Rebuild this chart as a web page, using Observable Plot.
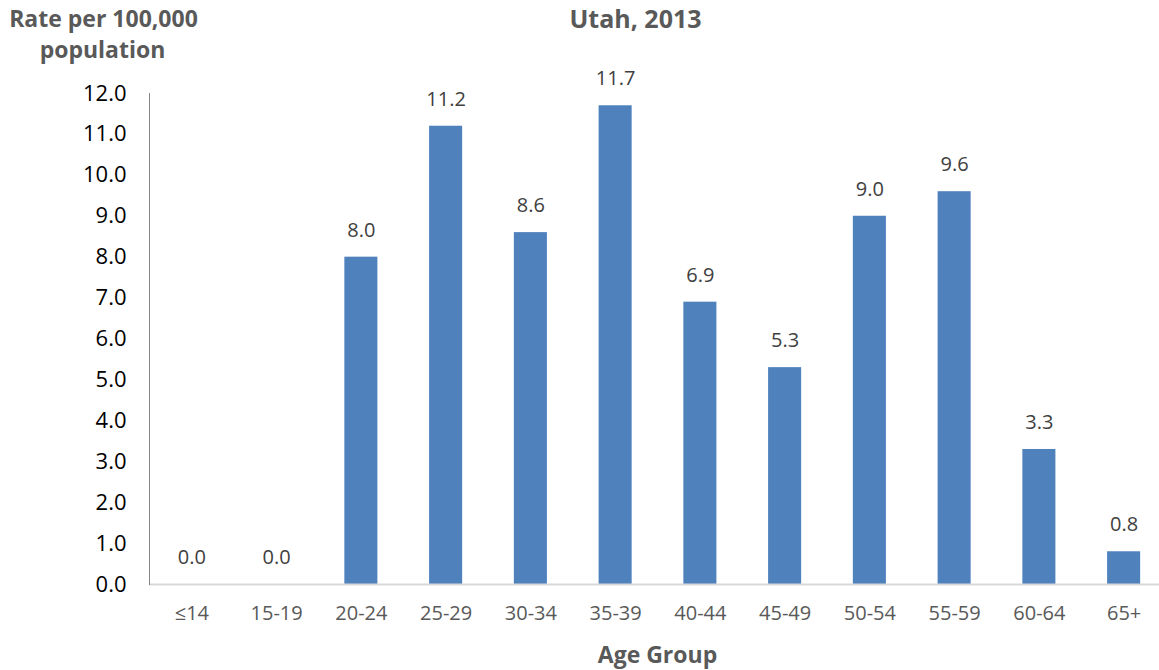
<!DOCTYPE html>
<html><head><meta charset="utf-8">
<script src="https://cdn.jsdelivr.net/npm/d3@7"></script>
<script src="https://cdn.jsdelivr.net/npm/@observablehq/plot@0.6"></script>
<style>body{margin:0;background:#fff;font-family:"Open Sans",sans-serif}</style>
</head><body><div id="chart"></div>
<script>
const ageGroups = ["≤14","15-19","20-24","25-29","30-34","35-39","40-44","45-49","50-54","55-59","60-64","65+"];
const rates = [0.0,0.0,8.0,11.2,8.6,11.7,6.9,5.3,9.0,9.6,3.3,0.8];
const yTicks = [0,1,2,3,4,5,6,7,8,9,10,11,12];
const title = "Utah, 2013";
const yLabel = ["Rate per 100,000","population"];
const xLabel = "Age Group";

const data = ageGroups.map((g,i)=>({group:g, rate:rates[i]}));
const font = '"Open Sans", sans-serif';

const chart = Plot.plot({
  width: 1159, height: 670,
  marginTop: 93, marginBottom: 86, marginLeft: 149, marginRight: 0,
  style: {fontFamily: font, background: "#fff"},
  x: {domain: ageGroups, range: [149, 1166], paddingInner: 0.61, paddingOuter: 0.305, align: 0.5, round: false},
  y: {domain: [0, 12], range: [584, 93]},
  marks: [
    Plot.barY(data, {x: "group", y: "rate", fill: "#4f81bd"}),
    Plot.ruleY([0], {stroke: "#d9d9d9", strokeWidth: 2}),
    Plot.frame({anchor: "left", stroke: "#868686"}),
    Plot.axisY({ticks: yTicks, tickFormat: d3.format(".1f"), tickSize: 0, tickPadding: 23, fontSize: 22, fill: "#000", label: null}),
    Plot.axisX({tickSize: 0, tickPadding: 21, fontSize: 20, fill: "#595959", label: null}),
    Plot.text(data, {x: "group", y: "rate", text: d => d3.format(".1f")(d.rate), dy: -27, fontSize: 20, fill: "#404040"}),
    Plot.text([title], {frameAnchor: "top", lineAnchor: "middle", dx: -19, dy: -74, text: d => d, fontSize: 25, fontWeight: "bold", fill: "#595959"}),
    Plot.text([yLabel[0]], {frameAnchor: "top-left", lineAnchor: "middle", dx: -46, dy: -74, text: d => d, fontSize: 23, fontWeight: "bold", fill: "#595959", textAnchor: "middle"}),
    Plot.text([yLabel[1]], {frameAnchor: "top-left", lineAnchor: "middle", dx: -47, dy: -43, text: d => d, fontSize: 23, fontWeight: "bold", fill: "#595959", textAnchor: "middle"}),
    Plot.text([xLabel], {frameAnchor: "bottom", lineAnchor: "middle", dx: 3, dy: 71, text: d => d, fontSize: 23, fontWeight: "bold", fill: "#595959"})
  ]
});
document.getElementById("chart").appendChild(chart);
</script></body></html>
